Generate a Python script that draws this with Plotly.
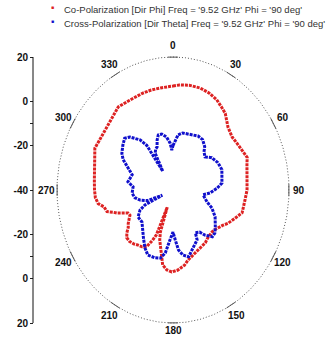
import numpy as np
import plotly.graph_objects as go

# Radiation pattern at 9.52 GHz, Phi = 90 deg (theta in degrees, gain in dB)
co_theta = [0, 4, 10, 17, 23, 29, 34, 38, 45, 52, 57, 61, 65, 69, 73, 77, 83, 90,
            97, 103, 106, 112, 118, 122, 126, 130, 133, 139, 145, 152, 161, 166, 170,
            176, 181, 185, 189, 191, 194, 197, 199, 201, 203, 205, 208, 212, 216, 220,
            224, 228, 231, 234, 237, 243, 246, 248, 250, 252, 254, 258, 261, 265, 270,
            276, 283, 289, 295, 300, 305, 310, 316, 323, 331, 340, 346, 352, 360]
co_db = [6.9, 7.5, 8.0, 8.1, 7.6, 6.6, 5.0, 3.9, 0.2, -1.2, -0.8, -0.3, 0.4, 1.1, 0.0,
         -0.7, -1.4, -1.7, -2.5, -2.6, -2.8, -5.6, -7.9, -9.8, -11.1, -12.0, -12.3,
         -12.1, -10.9, -10.4, -8.9, -7.5, -5.6, -3.8, -3.0, -3.8, -5.8, -9.2, -13.0,
         -16.5, -20.0, -31.7, -18.0, -15.0, -11.0, -9.8, -9.3, -8.3, -7.7, -7.8, -9.3,
         -11.4, -12.4, -15.0, -14.5, -12.0, -9.5, -7.5, -4.5, -3.5, -0.8, 0.3, 0.6,
         0.9, 1.7, 3.0, 4.6, 4.2, 4.2, 4.6, 5.6, 7.0, 6.3, 6.4, 6.5, 6.5, 6.9]

cx_theta = [0, 3, 6, 11, 19, 28, 34, 40, 43, 48, 54, 62, 70, 77, 83, 88, 94, 98, 103,
            107, 112, 119, 127, 132, 136, 141, 144, 149, 151, 158, 165, 170, 174, 177,
            180, 184, 188, 192, 197, 204, 209, 215, 222, 228, 236, 242, 245, 247, 250,
            255, 260, 266, 274, 279, 288, 294, 298, 302, 308, 313, 317, 323, 326, 328,
            331, 334, 337, 340, 343, 347, 352, 356, 358, 360]
cx_db = [-20.0, -17.4, -15.0, -13.8, -13.3, -12.4, -12.6, -14.5, -16.5, -17.7, -15.2,
         -13.7, -13.1, -14.0, -14.5, -17.2, -20.8, -24.3, -23.0, -21.6, -18.3, -15.1,
         -12.6, -10.9, -10.7, -13.8, -16.5, -17.5, -14.3, -11.9, -8.8, -10.2, -12.8,
         -17.4, -21.0, -17.4, -11.3, -8.6, -8.0, -7.9, -10.1, -13.4, -16.8, -18.4,
         -18.2, -20.7, -24.0, -34.0, -26.0, -22.4, -20.0, -18.8, -19.3, -16.4, -17.8,
         -14.5, -10.8, -8.8, -7.1, -5.8, -7.3, -11.7, -15.7, -30.0, -21.0, -19.5,
         -18.9, -16.0, -14.0, -14.1, -15.9, -18.8, -22.0, -20.0]

r_min, r_max = -40.0, 20.0
angle_ticks = list(range(0, 360, 30))
radial_tickvals = [20, 0, -20, -40, -20, 0, 20]
radial_minor = [-10, -10]

co_name = "Co-Polarization [Dir Phi] Freq = '9.52 GHz' Phi = '90 deg'"
cx_name = "Cross-Polarization [Dir Theta] Freq = '9.52 GHz' Phi = '90 deg'"
RED = "#dd2222"
BLUE = "#1010cc"


def to_xy(theta_deg, db):
    t = np.radians(np.asarray(theta_deg, dtype=float))
    r = np.clip((np.asarray(db, dtype=float) - r_min) / (r_max - r_min), 0, None)
    return r * np.sin(t), r * np.cos(t)


W, H = 333, 338
cx_px, cy_px = 173, 190          # pattern centre in pixels
rx_px, ry_px = 116, 133          # outer ring radii in pixels

fig = go.Figure()

# outer ring (20 dB) as a dotted ellipse
ring_t = np.linspace(0, 360, 361)
rx, ry = to_xy(ring_t, np.full_like(ring_t, r_max))
fig.add_trace(go.Scatter(x=rx, y=ry, mode="lines", hoverinfo="skip",
                         line=dict(color="#555555", width=1, dash="1px,2px")))

# short tick arcs on the ring at each angle label
tx, ty = [], []
for a in angle_ticks:
    seg = np.linspace(a - 2.5, a + 2.5, 6)
    sx, sy = to_xy(seg, np.full_like(seg, r_max))
    tx += list(sx) + [None]
    ty += list(sy) + [None]
fig.add_trace(go.Scatter(x=tx, y=ty, mode="lines", hoverinfo="skip",
                         line=dict(color="#555555", width=1)))

for th, db, col, nm in [(co_theta, co_db, RED, co_name), (cx_theta, cx_db, BLUE, cx_name)]:
    x, y = to_xy(th, db)
    fig.add_trace(go.Scatter(x=x, y=y, mode="lines", name=nm,
                             line=dict(color=col, width=3, dash="3px,1px")))

# angle labels
ann = []
for a in angle_ticks:
    off = 0.06 if a == 180 else 0.09
    lx, ly = to_xy([a], [r_max + off * (r_max - r_min)])
    ann.append(dict(x=float(lx[0]), y=float(ly[0]), xref="x", yref="y", text=str(a),
                    showarrow=False, font=dict(family="Arial", size=10, color="#111111",
                                                weight="bold")))

# legend rows
for i, (nm, col) in enumerate([(co_name, RED), (cx_name, BLUE)]):
    py = 9 + 14 * i
    ann.append(dict(x=52 / W, y=1 - (py - 2) / H, xref="paper", yref="paper", text="■",
                    showarrow=False, xanchor="center", yanchor="middle",
                    font=dict(size=5, color=col)))
    ann.append(dict(x=62 / W, y=1 - py / H, xref="paper", yref="paper", text=nm,
                    showarrow=False, xanchor="left", yanchor="middle",
                    font=dict(family="Arial", size=9.5, color="#333333")))

ytick_pos = [(v - r_min) / (r_max - r_min) * (1 if i < 3 else -1) for i, v in enumerate(radial_tickvals)]
ytick_pos[3] = 0.0
minor_pos = [(radial_minor[0] - r_min) / (r_max - r_min), -(radial_minor[1] - r_min) / (r_max - r_min)]

x0 = -cx_px / rx_px
x1 = (W - cx_px) / rx_px
y1 = cy_px / ry_px
y0 = -(H - cy_px) / ry_px

fig.update_layout(
    width=W, height=H, margin=dict(l=0, r=0, t=0, b=0),
    paper_bgcolor="white", plot_bgcolor="white", showlegend=False,
    annotations=ann,
    xaxis=dict(range=[x0, x1], visible=False, fixedrange=True),
    yaxis=dict(range=[y0, y1], anchor="free", position=33 / W, showgrid=False,
               zeroline=False, showline=False, tickmode="array", tickvals=ytick_pos,
               ticktext=[str(v) for v in radial_tickvals], ticks="outside", ticklen=3,
               tickcolor="#222222",
               tickfont=dict(family="Arial", size=10, color="#111111", weight="bold"),
               minor=dict(tickvals=minor_pos, ticks="outside", ticklen=3,
                          tickcolor="#222222"),
               fixedrange=True),
    shapes=[dict(type="line", xref="paper", yref="y", x0=33 / W, x1=33 / W,
                 y0=-1, y1=1, line=dict(color="#111111", width=1))],
)

fig.write_html("out.html")
